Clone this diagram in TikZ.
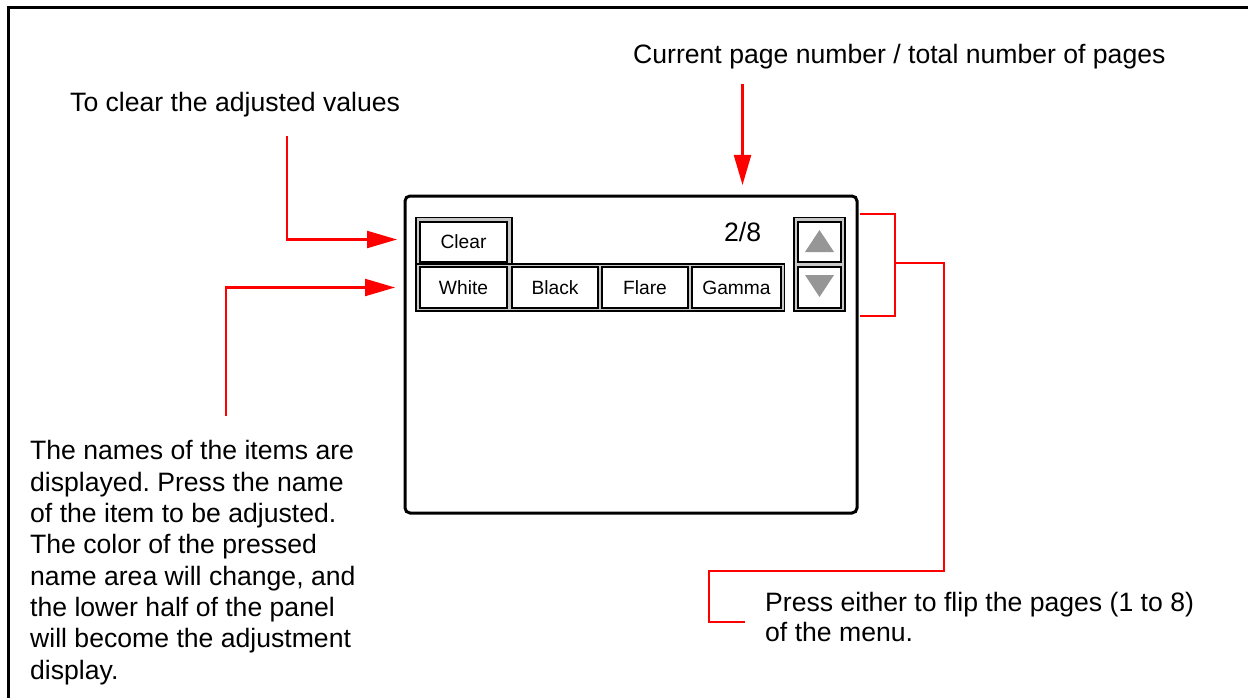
\documentclass[tikz,border=0pt]{standalone}
\usepackage{fontspec}
\setmainfont{Liberation Sans}
\usetikzlibrary{arrows.meta, positioning}
\definecolor{callred}{RGB}{255,0,0}
\definecolor{arrowgray}{RGB}{150,150,150}
\definecolor{gapgray}{RGB}{200,200,200}
\frenchspacing

\tikzset{
  notetext/.style={font=\fontsize{26.6}{31.3}\selectfont, inner sep=0pt, align=left},
  btn/.style={draw, line width=1.2pt, fill=white, inner sep=0pt,
    minimum width=87pt, minimum height=41pt, font=\fontsize{19.2}{21}\selectfont},
  btnframe/.style={draw, line width=1.2pt, fill=gapgray},
  callout/.style={callred, line width=2.2pt},
  pointer/.style={-{Triangle[length=30pt, width=17pt]}}
}

\begin{document}
\begin{tikzpicture}[x=1pt, y=-1pt]
      \useasboundingbox (0,0) rectangle (1248,698);
      \draw[line width=3.5pt] (8.5,698) -- (8.5,7.5) -- (1248,7.5);

      % the touch panel
      \node[draw, line width=3pt, rounded corners=5pt, minimum width=452pt,
        minimum height=317pt, inner sep=0pt] (panel) at (631,354.5) {};
      \draw[btnframe] (416,217.5) rectangle (512,264);
      \draw[btnframe] (416,264) rectangle (784.5,311);
      \draw[btnframe] (794,217.5) rectangle (845,311);
      \node[btn, minimum height=40pt] (clear) at (463.5,242) {Clear};
      \node[btn] (white) at (463.5,287.5) {White};
      \node[btn, minimum width=86pt] (black) at (555,287.5) {Black};
      \node[btn, minimum width=86pt] (flare) at (645,287.5) {Flare};
      \node[btn, minimum width=89pt] (gamma) at (736.5,287.5) {Gamma};
      \node[btn, minimum width=43pt, minimum height=40pt] (up) at (819.5,242) {};
      \node[btn, minimum width=43pt] (down) at (819.5,287.5) {};
      \fill[arrowgray] (up.center) ++(0,-12) -- ++(14.5,22) -- ++(-29,0) -- cycle;
      \fill[arrowgray] (down.center) ++(-14.5,-12.5) -- ++(29,0) -- ++(-14.5,22) -- cycle;
      \node[notetext, anchor=base west] (count) at (724,241) {2/8};

      % notes
      \node[notetext, anchor=base west] (pagenote) at (633,64) {Current page number / total number of pages};
      \node[notetext, anchor=base west] (clearnote) at (70,112) {To clear the adjusted values};
      \node[notetext, anchor=base west] (itemnote) at (30,679) {The names of the items are\\
        displayed. Press the name\\ of the item to be adjusted.\\ The color of the pressed\\
        name area will change, and\\ the lower half of the panel\\ will become the adjustment\\ display.};
      \node[notetext, anchor=base west, font=\fontsize{26.6}{30}\selectfont] (pressnote) at (765,641)
        {Press either to flip the pages (1 to 8)\\ of the menu.};

      % callouts
      \coordinate (pagefoot) at (742.5,84);
      \coordinate (pagehead) at (742.5,185);
      \coordinate (clearfoot) at (287,136);
      \coordinate (clearhead) at (397,239.5);
      \coordinate (itemfoot) at (226,416);
      \coordinate (itemhead) at (395,287.5);
      \coordinate (bracktop) at (860,214);
      \coordinate (brackbot) at (860,316);
      \coordinate (brackjoin) at (895,263);
      \coordinate (pressfoot) at (745,622);
      \draw[callout, pointer] (pagefoot) -- (pagehead);
      \draw[callout, pointer] (clearfoot) |- (clearhead);
      \draw[callout, pointer] (itemfoot) |- (itemhead);
      \draw[callout] (bracktop) -| (brackjoin) |- (brackbot);
      \draw[callout] (brackjoin) -| (944,571) -| (709,622) -- (pressfoot);
    \end{tikzpicture}
\end{document}
